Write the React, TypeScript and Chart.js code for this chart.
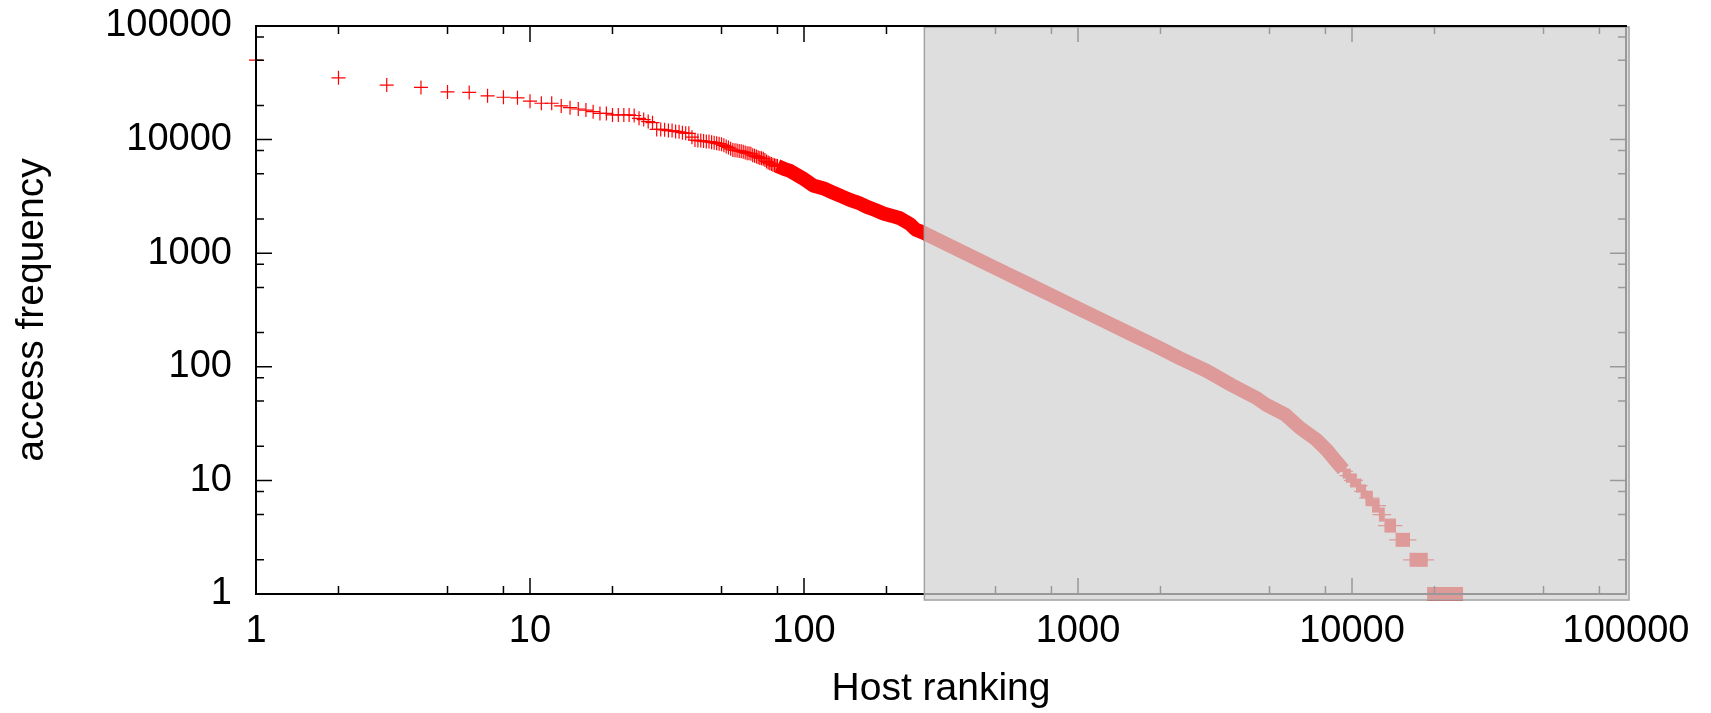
import React, { useEffect, useRef } from 'react';
import { Chart, registerables } from 'chart.js';

Chart.register(...registerables);

// ---- data (rank -> access frequency) ----
// individually visible "+" marks, ranks 1..80
const headRanks = [
  1, 2, 3, 4, 5, 6, 7, 8, 9, 10, 11, 12, 13, 14, 15, 16, 17, 18, 19, 20,
  21, 22, 23, 24, 25, 26, 27, 28, 29, 30, 31, 32, 33, 34, 35, 36, 37, 38, 39, 40,
  41, 42, 43, 44, 45, 46, 47, 48, 49, 50, 51, 52, 53, 54, 55, 56, 57, 58, 59, 60,
  61, 62, 63, 64, 65, 66, 67, 68, 69, 70, 71, 72, 73, 74, 75, 76, 77, 78, 79, 80,
];
const headFreqs = [
  50000, 35000, 30200, 28800, 26300, 26000, 24300, 23600, 23300, 21800, 20900, 20900, 19800, 19100, 18600, 18200, 17600, 17000, 17000, 16500,
  16500, 16500, 16500, 16300, 15400, 15000, 14400, 14100, 12300, 12300, 12200, 12000, 12000, 11800, 11700, 11500, 11400, 11350, 10500, 9900,
  9800, 9800, 9700, 9600, 9600, 9500, 9400, 9300, 9200, 9100, 8900, 8700, 8500, 8300, 8100, 8050, 8000, 7950, 7900, 7800,
  7700, 7600, 7580, 7500, 7300, 7200, 7100, 7000, 6900, 6850, 6800, 6600, 6400, 6300, 6200, 6100, 6000, 5950, 5900, 5850,
];

// dense part of the curve (marks merge into a band)
const bodyRanks = [80, 85, 89, 94, 99, 108, 118, 128, 138, 147, 158, 169, 182, 195, 210, 224, 244, 255, 265, 275, 332, 439, 549, 668, 813, 1016, 1273, 1549, 1938, 2355, 2950, 3640, 4490, 4880, 5700, 6460, 7430, 8090, 8700, 9300];
const bodyFreqs = [5850, 5500, 5300, 4900, 4560, 3950, 3720, 3400, 3150, 2950, 2780, 2570, 2400, 2240, 2130, 2030, 1800, 1620, 1560, 1500, 1200, 863, 663, 526, 418, 321, 247, 196, 151, 119, 92, 69, 53, 46, 38, 29, 22.7, 18.5, 15, 12.4];

// low-frequency tail: each frequency level spans a run of ranks
const tailFreqLevels = [12, 11, 10, 9, 8, 7, 6, 5, 4, 3, 2, 1];
const tailStartRanks = [9300, 9550, 9900, 10400, 10800, 11250, 11900, 12600, 13200, 14500, 16300, 18900];
const tailEndRanks = [9500, 9850, 10350, 10750, 11200, 11850, 12550, 13100, 14400, 16200, 18800, 25300];

const xTickValues = [1, 10, 100, 1000, 10000, 100000];
const yTickValues = [1, 10, 100, 1000, 10000, 100000];
const minorMultipliers = [2, 5, 8];

// shaded region (data units)
const shadeX = [275, 102600];
const shadeY = [0.885, 98000];

const FONT = "'Liberation Sans', Arial, Helvetica, sans-serif";

const toPoints = (xs: number[], ys: number[]) => xs.map((x, i) => ({ x, y: ys[i] }));

const framePlugin = {
  id: 'frameAndShade',
  afterDatasetsDraw(chart: any) {
    const { ctx, chartArea, scales } = chart;
    const { left, right, top, bottom } = chartArea;
    const xs = scales.x;
    const ys = scales.y;
    ctx.save();
    ctx.strokeStyle = '#000';
    ctx.lineWidth = 1.5;
    ctx.beginPath();
    xTickValues.forEach((d, i) => {
      const px = xs.getPixelForValue(d);
      if (i > 0 && i < xTickValues.length - 1) {
        ctx.moveTo(px, bottom); ctx.lineTo(px, bottom - 16);
        ctx.moveTo(px, top); ctx.lineTo(px, top + 16);
      }
      if (i < xTickValues.length - 1) {
        minorMultipliers.forEach((m) => {
          const mp = xs.getPixelForValue(d * m);
          ctx.moveTo(mp, bottom); ctx.lineTo(mp, bottom - 8);
          ctx.moveTo(mp, top); ctx.lineTo(mp, top + 8);
        });
      }
    });
    yTickValues.forEach((d, i) => {
      const py = ys.getPixelForValue(d);
      if (i > 0 && i < yTickValues.length - 1) {
        ctx.moveTo(left, py); ctx.lineTo(left + 16, py);
        ctx.moveTo(right, py); ctx.lineTo(right - 16, py);
      }
      if (i < yTickValues.length - 1) {
        minorMultipliers.forEach((m) => {
          const mp = ys.getPixelForValue(d * m);
          ctx.moveTo(left, mp); ctx.lineTo(left + 8, mp);
          ctx.moveTo(right, mp); ctx.lineTo(right - 8, mp);
        });
      }
    });
    ctx.stroke();
    ctx.lineWidth = 2;
    ctx.strokeRect(left, top, right - left, bottom - top);

    const sx0 = xs.getPixelForValue(shadeX[0]);
    const sx1 = xs.getPixelForValue(shadeX[1]);
    const sy0 = ys.getPixelForValue(shadeY[0]);
    const sy1 = ys.getPixelForValue(shadeY[1]);
    ctx.fillStyle = 'rgba(210,210,210,0.73)';
    ctx.fillRect(sx0, sy1, sx1 - sx0, sy0 - sy1);
    ctx.strokeStyle = '#a3a3a3';
    ctx.lineWidth = 1.5;
    ctx.strokeRect(sx0, sy1, sx1 - sx0, sy0 - sy1);

    ctx.strokeStyle = '#000';
    ctx.lineWidth = 2;
    ctx.beginPath();
    ctx.moveTo(left - 1, top);
    ctx.lineTo(right + 1, top);
    ctx.stroke();
    ctx.restore();
  },
};

const red = '#ff0000';
const crossStyle = {
  borderColor: red,
  backgroundColor: red,
  pointStyle: 'cross',
  pointRadius: 7,
  pointBorderWidth: 1.2,
  clip: false,
};

export default function App() {
  const canvasRef = useRef<HTMLCanvasElement | null>(null);

  useEffect(() => {
    if (!canvasRef.current) return;
    const tailSets = tailFreqLevels.map((f, i) => ({
      ...crossStyle,
      data: [
        { x: tailStartRanks[i], y: f },
        { x: tailEndRanks[i], y: f },
      ],
      showLine: true,
      borderWidth: 14,
      borderCapStyle: 'butt',
    }));
    const chart = new Chart(canvasRef.current, {
      type: 'scatter',
      data: {
        datasets: [
          { ...crossStyle, data: toPoints(headRanks, headFreqs), showLine: false },
          {
            ...crossStyle,
            data: toPoints(bodyRanks, bodyFreqs),
            borderWidth: 14,
            borderCapStyle: 'butt',
            borderJoinStyle: 'round',
            showLine: true,
            tension: 0,
          },
          ...tailSets,
        ],
      },
      options: {
        animation: false,
        responsive: false,
        devicePixelRatio: 1,
        layout: { padding: { top: 26, right: 85, left: 0, bottom: 0 } },
        plugins: { legend: { display: false }, tooltip: { enabled: false } },
        scales: {
          x: {
            type: 'logarithmic',
            position: 'bottom',
            min: 1,
            max: 100000,
            grid: { display: false, drawTicks: false },
            border: { display: false },
            afterBuildTicks: (s: any) => { s.ticks = xTickValues.map((v) => ({ value: v })); },
            afterFit: (s: any) => { s.height = 119; s.paddingLeft = 0; s.paddingRight = 0; },
            ticks: {
              autoSkip: false,
              maxRotation: 0,
              padding: 15,
              color: '#000',
              font: { family: FONT, size: 38 },
              callback: (v: any) => String(v),
            },
            title: {
              display: true,
              text: 'Host ranking',
              color: '#000',
              font: { family: FONT, size: 39 },
              padding: { top: 0, bottom: 0 },
            },
          },
          y: {
            type: 'logarithmic',
            min: 1,
            max: 100000,
            grid: { display: false, drawTicks: false },
            border: { display: false },
            afterBuildTicks: (s: any) => { s.ticks = yTickValues.map((v) => ({ value: v })); },
            afterFit: (s: any) => { s.width = 256; s.paddingTop = 0; s.paddingBottom = 0; },
            ticks: {
              autoSkip: false,
              padding: 24,
              color: '#000',
              font: { family: FONT, size: 38 },
              callback: (v: any) => String(v),
            },
            title: {
              display: true,
              text: 'access frequency',
              color: '#000',
              font: { family: FONT, size: 39 },
              padding: { top: 9, bottom: 0 },
            },
          },
        },
      },
      plugins: [framePlugin],
    } as any);
    return () => chart.destroy();
  }, []);

  return (
    <div style={{ position: 'fixed', left: 0, top: 0, width: 1711, height: 713, background: '#fff' }}>
      <canvas ref={canvasRef} width={1711} height={713} style={{ display: 'block' }} />
    </div>
  );
}
